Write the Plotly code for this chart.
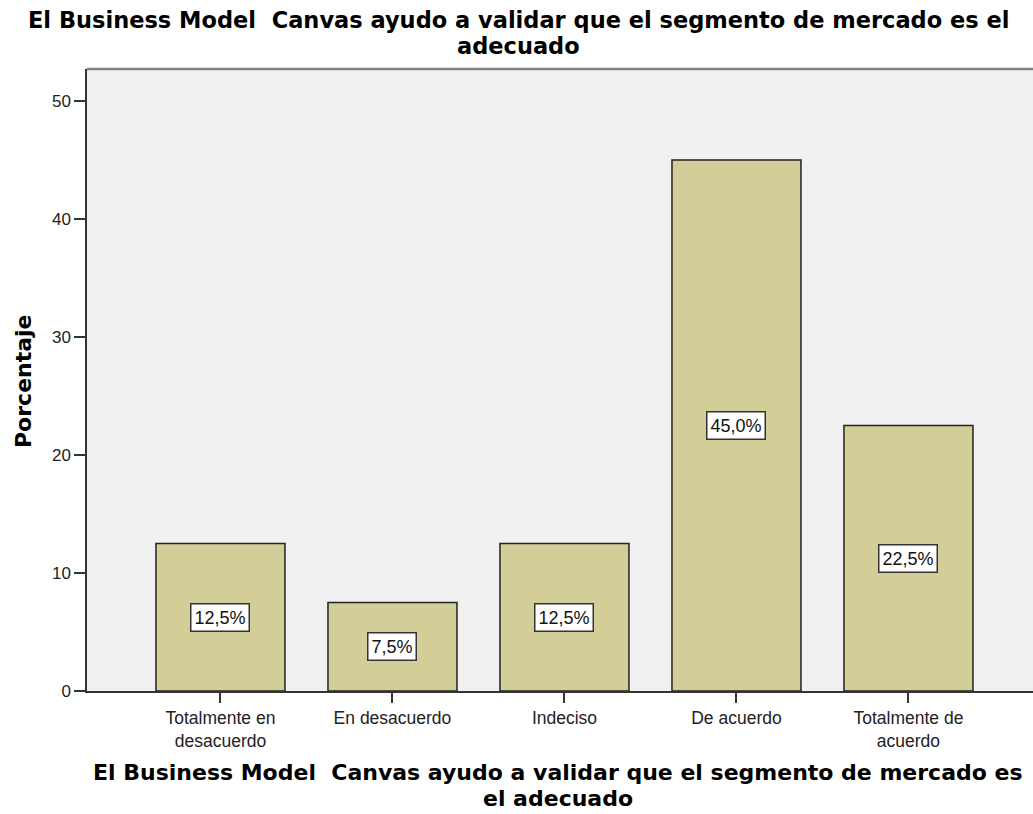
import plotly.graph_objects as go

categories = ["Totalmente en<br>desacuerdo", "En desacuerdo", "Indeciso", "De acuerdo", "Totalmente de<br>acuerdo"]
values = [12.5, 7.5, 12.5, 45.0, 22.5]
labels = ["12,5%", "7,5%", "12,5%", "45,0%", "22,5%"]
y_ticks = [0, 10, 20, 30, 40, 50]

title_lines = ["El Business Model \u00a0Canvas ayudo a validar que el segmento de mercado es el", "adecuado"]
xtitle_lines = ["El Business Model \u00a0Canvas ayudo a validar que el segmento de mercado es", "el adecuado"]
ytitle = "Porcentaje"

FONT = "Liberation Sans, Arial, sans-serif"
TFONT = "DejaVu Sans, Liberation Sans, sans-serif"

W, H = 1033, 814
PL, PT, PB = 87, 69, 691          # plot left/top/bottom in screenshot pixels
PW = W - PL
PH = PB - PT

def py(img_y):
    return (PB - img_y) / PH

def px(img_x):
    return (img_x - PL) / PW

x_idx = list(range(len(categories)))

fig = go.Figure()
fig.add_trace(go.Bar(
    x=x_idx, y=values, width=0.75,
    marker=dict(color="#D3CE97", line=dict(color="#222222", width=1.5)),
    hoverinfo="skip",
))

for i, (v, t) in enumerate(zip(values, labels)):
    fig.add_annotation(
        x=i, y=v / 2, text=t, showarrow=False,
        font=dict(family=FONT, size=18, color="#111111"),
        bgcolor="white", bordercolor="#333333", borderwidth=1.5, borderpad=3,
    )

# chart title (two lines, tight spacing like the source)
for txt, yc in zip(title_lines, [20, 46.5]):
    fig.add_annotation(
        xref="paper", yref="paper", x=px(518), y=py(yc), xanchor="center", yanchor="middle",
        text=txt, showarrow=False,
        font=dict(family=TFONT, size=22.5, color="#000000", weight="bold"),
    )

# x-axis title
for txt, yc in zip(xtitle_lines, [772, 798]):
    fig.add_annotation(
        xref="paper", yref="paper", x=px(558), y=py(yc), xanchor="center", yanchor="middle",
        text=txt, showarrow=False,
        font=dict(family=TFONT, size=22, color="#000000", weight="bold"),
    )

# y-axis title
fig.add_annotation(
    xref="paper", yref="paper", x=px(23), y=py(381), xanchor="center", yanchor="middle",
    text=ytitle, textangle=-90, showarrow=False,
    font=dict(family=TFONT, size=22, color="#000000", weight="bold"),
)

fig.update_layout(
    width=W, height=H,
    margin=dict(l=PL, r=0, t=PT, b=H - PB, autoexpand=False),
    paper_bgcolor="white", plot_bgcolor="#F0F0F0",
    showlegend=False,
    font=dict(family=FONT, color="#111111"),
    bargap=0.25,
)

fig.update_xaxes(
    range=[-0.776, -0.776 + PW / 172.0],
    tickmode="array", tickvals=x_idx, ticktext=categories,
    ticks="outside", ticklen=10, tickwidth=1.5, tickcolor="#333333",
    showline=True, linecolor="#333333", linewidth=1.5,
    showgrid=False, zeroline=False,
    tickfont=dict(family=FONT, size=17.5, color="#222222"),
)
fig.update_yaxes(
    range=[0, PH / 11.8],
    tickmode="array", tickvals=y_ticks,
    ticks="outside", ticklen=11, tickwidth=1.5, tickcolor="#333333",
    showline=True, linecolor="#333333", linewidth=1.5,
    showgrid=False, zeroline=False,
    tickfont=dict(family=FONT, size=17, color="#222222"),
)

fig.add_shape(type="line", xref="paper", yref="paper", x0=0, x1=1, y0=1, y1=1,
              line=dict(color="#808080", width=2.5))

fig.write_html("out.html",
               config={"displayModeBar": False},
               post_script="document.body.style.margin='0';document.body.style.overflow='hidden';")
